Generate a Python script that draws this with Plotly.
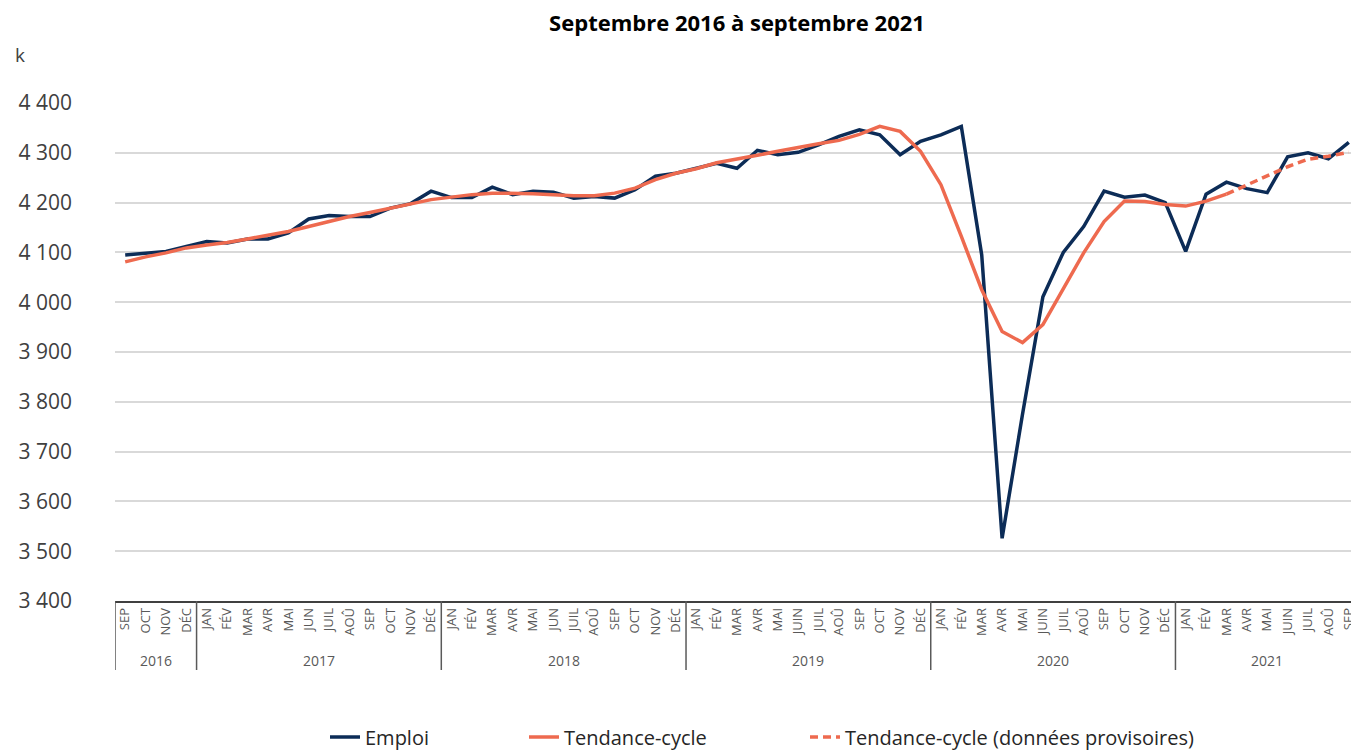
import plotly.graph_objects as go

# ---- data -------------------------------------------------------------
annees = ["2016"] * 4 + ["2017"] * 12 + ["2018"] * 12 + ["2019"] * 12 + ["2020"] * 12 + ["2021"] * 9
mois_annee = ["JAN", "FÉV", "MAR", "AVR", "MAI", "JUIN", "JUIL", "AOÛ", "SEP", "OCT", "NOV", "DÉC"]
mois_2017_2018 = ["JAN", "FÉV", "MAR", "AVR", "MAI", "JUN", "JUIL", "AOÛ", "SEP", "OCT", "NOV", "DÉC"]
mois = (["SEP", "OCT", "NOV", "DÉC"] + mois_2017_2018 + mois_2017_2018
        + mois_annee + mois_annee + mois_annee[:9])

emploi = [4095, 4099, 4102, 4112,
          4122, 4119, 4127, 4127, 4139, 4167, 4174, 4172, 4172, 4189, 4198, 4223,
          4210, 4210, 4231, 4216, 4223, 4221, 4209, 4212, 4209, 4226, 4253, 4259,
          4269, 4279, 4269, 4305, 4296, 4301, 4316, 4333, 4346, 4336, 4296, 4323,
          4336, 4353, 4095, 3526, 3775, 4011, 4100, 4152, 4223, 4211, 4215, 4200,
          4102, 4217, 4241, 4228, 4220, 4292, 4300, 4288, 4321]

tendance = [4081, 4091, 4099, 4109,
            4115, 4120, 4127, 4134, 4142, 4152, 4162, 4172, 4180, 4189, 4198, 4206,
            4211, 4216, 4219, 4219, 4218, 4216, 4214, 4214, 4219, 4229, 4246, 4259,
            4268, 4280, 4287, 4295, 4303, 4311, 4318, 4325, 4337, 4353, 4343, 4303,
            4236, 4132, 4025, 3941, 3919, 3955, 4028, 4099, 4162, 4203, 4202, 4196,
            4193, 4203, 4217]

tendance_prov = [4217, 4235, 4253, 4272, 4287, 4293, 4301]

titre = "Septembre 2016 à septembre 2021"
unite = "k"
y_ticks = [3400, 3500, 3600, 3700, 3800, 3900, 4000, 4100, 4200, 4300, 4400]

# ---- styles -----------------------------------------------------------
NAVY = "#0c2c57"
ORANGE = "#ee6a4f"
FONT = "Open Sans"
# the page body has an 8px margin, so the figure is made 8px smaller
W, H = 1351, 744
ML, MR, MT, MB = 107, 0, 95, 151
PW, PH = W - ML - MR, H - MT - MB

n = len(mois)
idx = list(range(n))
n_sol = len(tendance)
n_prov = len(tendance_prov)

fig = go.Figure()
fig.add_trace(go.Scatter(x=idx, y=emploi, mode="lines", name="Emploi",
                         line=dict(color=NAVY, width=3.5), legend="legend"))
fig.add_trace(go.Scatter(x=idx[:n_sol], y=tendance, mode="lines", name="Tendance-cycle",
                         line=dict(color=ORANGE, width=3.5), legend="legend2"))
fig.add_trace(go.Scatter(x=idx[-n_prov:], y=tendance_prov, mode="lines",
                         name="Tendance-cycle (données provisoires)",
                         line=dict(color=ORANGE, width=3.5, dash="8px,5px"), legend="legend3"))

# year groups: dividers and labels below the month labels
groupes = []
for i, a in enumerate(annees):
    if not groupes or groupes[-1][0] != a:
        groupes.append([a, i, i])
    else:
        groupes[-1][2] = i

shapes = []
annotations = []
bornes = sorted({g[1] - 0.5 for g in groupes} | {g[2] + 0.5 for g in groupes})
for b in bornes:
    shapes.append(dict(type="line", xref="x", yref="paper", x0=b, x1=b, y0=0,
                       y1=-69 / PH, line=dict(color="#595959", width=1.5)))
for a, i0, i1 in groupes:
    annotations.append(dict(text=a, xref="x", yref="paper", x=(i0 + i1) / 2,
                            y=-59 / PH, xanchor="center", yanchor="middle", showarrow=False,
                            font=dict(family=FONT, size=14, color="#595959")))
annotations.append(dict(text=unite, xref="paper", yref="paper", x=(12 - ML) / PW,
                        y=1 + (MT - 47) / PH, xanchor="center", yanchor="middle",
                        showarrow=False, font=dict(family=FONT, size=19, color="#404040")))

leg_common = dict(orientation="h", xref="container", yref="container",
                  xanchor="left", yanchor="middle", y=15 / H,
                  font=dict(family=FONT, size=20, color="#262626"),
                  bgcolor="rgba(0,0,0,0)")

fig.update_layout(
    width=W, height=H,
    margin=dict(l=ML, r=MR, t=MT, b=MB),
    paper_bgcolor="white", plot_bgcolor="white",
    separators=", ",
    showlegend=True,
    font=dict(family=FONT, color="#404040"),
    title=dict(text="<b>" + titre + "</b>", x=0.5, xref="paper", xanchor="center",
               y=1 - 15 / H, yref="container", yanchor="middle",
               font=dict(family=FONT, size=22, color="#000000")),
    legend=dict(x=317 / W, **leg_common),
    legend2=dict(x=516 / W, **leg_common),
    legend3=dict(x=797 / W, **leg_common),
    xaxis=dict(range=[-0.5, n - 0.5], tickvals=idx, ticktext=mois, tickangle=-90,
               showline=True, linecolor="#404040", linewidth=1.5,
               showgrid=False, zeroline=False, ticks="",
               tickfont=dict(family=FONT, size=13, color="#595959")),
    yaxis=dict(range=[3400, 4400], tickvals=y_ticks, tickformat=",d", separatethousands=True,
               showgrid=True, gridcolor="#d9d9d9", gridwidth=1.5, zeroline=False,
               showline=False, ticks="", ticklabelstandoff=42,
               tickfont=dict(family=FONT, size=21, color="#404040")),
    shapes=shapes,
    annotations=annotations,
)

fig.write_html("out.html")
